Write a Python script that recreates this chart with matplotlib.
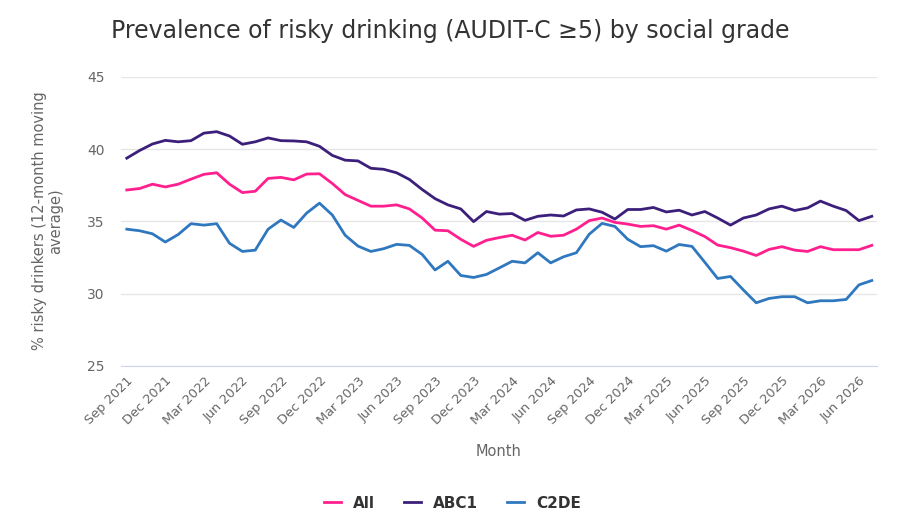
import numpy as np
import pandas as pd
import matplotlib
matplotlib.use("Agg")
from matplotlib import pyplot as plt

# Monthly 12-month moving averages, Sep 2021 .. Jul 2026
months = pd.date_range("2021-09-01", "2026-07-01", freq="MS")

allSeries = [37.17, 37.27, 37.57, 37.38, 37.57, 37.92, 38.25, 38.36, 37.57, 36.99,
             37.08, 37.97, 38.04, 37.87, 38.27, 38.29, 37.62, 36.85, 36.45, 36.05,
             36.05, 36.14, 35.86, 35.23, 34.39, 34.35, 33.76, 33.27, 33.69, 33.88,
             34.04, 33.71, 34.23, 33.97, 34.04, 34.46, 35.05, 35.23, 34.93, 34.81,
             34.65, 34.70, 34.46, 34.74, 34.37, 33.95, 33.36, 33.18, 32.94, 32.64,
             33.06, 33.25, 33.01, 32.92, 33.25, 33.04, 33.04, 33.04, 33.34]

abc1Series = [39.37, 39.90, 40.35, 40.60, 40.50, 40.58, 41.10, 41.20, 40.90, 40.33,
              40.50, 40.77, 40.58, 40.56, 40.50, 40.19, 39.56, 39.23, 39.18, 38.67,
              38.60, 38.36, 37.90, 37.20, 36.57, 36.14, 35.86, 34.98, 35.68, 35.50,
              35.54, 35.07, 35.35, 35.44, 35.37, 35.79, 35.86, 35.63, 35.16, 35.82,
              35.82, 35.96, 35.65, 35.77, 35.44, 35.68, 35.23, 34.74, 35.23, 35.44,
              35.86, 36.05, 35.75, 35.93, 36.40, 36.05, 35.75, 35.05, 35.35]

c2deSeries = [34.46, 34.35, 34.14, 33.57, 34.09, 34.84, 34.74, 34.84, 33.48, 32.92,
              33.01, 34.46, 35.09, 34.58, 35.57, 36.26, 35.44, 34.04, 33.29, 32.92,
              33.11, 33.41, 33.34, 32.71, 31.64, 32.24, 31.26, 31.12, 31.33, 31.78,
              32.24, 32.13, 32.83, 32.13, 32.55, 32.83, 34.11, 34.86, 34.65, 33.76,
              33.25, 33.32, 32.94, 33.40, 33.27, 32.17, 31.05, 31.19, 30.26, 29.37,
              29.67, 29.79, 29.79, 29.37, 29.51, 29.51, 29.60, 30.61, 30.91]

seriesNames = ["All", "ABC1", "C2DE"]
seriesColors = ["#ff1f8e", "#3b1f7a", "#2f78c0"]
yTicks = [25, 30, 35, 40, 45]

plt.rcParams['font.family'] = ['DejaVu Sans']

fig = plt.figure(figsize=(9.01, 5.23), dpi=100)
ax = fig.add_axes([0.1343, 0.3002, 0.839, 0.5531])

x = np.arange(len(months))
for name, values, color in zip(seriesNames, [allSeries, abc1Series, c2deSeries], seriesColors):
    ax.plot(x, values, color=color, linewidth=2, label=name, solid_joinstyle='round')

ax.set_ylim(25, 45)
ax.set_yticks(yTicks)
ax.set_xlim(-0.45, len(months) - 0.6)
tickIdx = x[::3]
ax.set_xticks(tickIdx)
ax.set_xticklabels([months[i].strftime("%b %Y") for i in tickIdx],
                   rotation=45, ha='right', va='top', rotation_mode='anchor',
                   fontsize=9.3, color="#666666")
ax.tick_params(axis='x', length=0, pad=6)
ax.tick_params(axis='y', length=0, pad=12, labelsize=10, labelcolor="#666666")

ax.grid(axis='y', color="#e6e6e6", linewidth=1)
ax.set_axisbelow(True)
for side in ['top', 'right', 'left']:
    ax.spines[side].set_visible(False)
ax.spines['bottom'].set_color("#ccd6eb")

ax.set_xlabel("Month", fontsize=10.5, color="#666666", labelpad=12)
fig.text(0.053, 0.578, "% risky drinkers (12-month moving\naverage)", rotation=90,
         ha='center', va='center', fontsize=10.5, color="#666666", linespacing=1.05)

fig.suptitle("Prevalence of risky drinking (AUDIT-C ≥5) by social grade",
             x=0.5, y=0.964, fontsize=17, color="#333333")

leg = fig.legend(loc='center', bbox_to_anchor=(0.502, 0.038), ncol=3, frameon=False,
                 handlelength=1.1, columnspacing=1.9, handletextpad=0.8,
                 prop={'size': 11, 'weight': 'bold'})
for t in leg.get_texts():
    t.set_color("#333333")

fig.savefig("out.png", dpi=100)
